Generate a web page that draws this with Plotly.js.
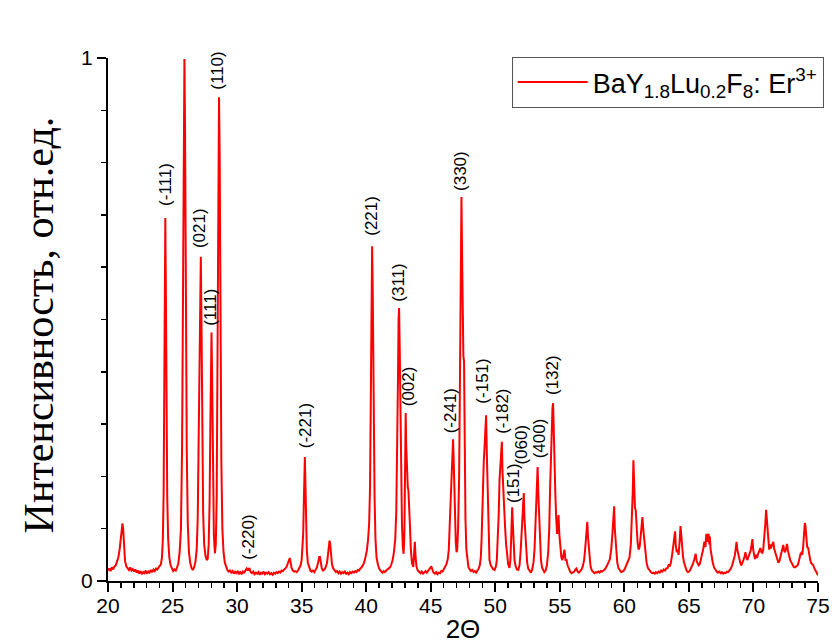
<!DOCTYPE html>
<html>
<head>
<meta charset="utf-8">
<script src="https://cdn.plot.ly/plotly-3.0.1.min.js"></script>
<style>html,body{margin:0;padding:0;background:#fff;}#chart{width:836px;height:644px;}</style>
</head>
<body>
<div id="chart"></div>
<script>
// 2Theta positions (degrees)
const twoTheta = [
20.00,20.10,20.20,20.30,20.40,20.50,20.60,20.70,20.80,20.90,
20.98,21.05,21.12,21.18,21.24,21.32,21.42,21.52,21.62,21.72,
21.82,21.92,22.02,22.12,22.22,22.32,22.42,22.52,22.62,22.72,
22.82,22.92,23.02,23.12,23.22,23.32,23.42,23.52,23.62,23.72,
23.82,23.92,24.00,24.10,24.18,24.25,24.31,24.36,24.40,24.44,
24.48,24.53,24.59,24.66,24.75,24.85,24.95,25.05,25.15,25.25,
25.35,25.45,25.55,25.65,25.74,25.80,25.86,25.92,25.97,26.03,
26.10,26.18,26.27,26.37,26.47,26.57,26.67,26.77,26.87,26.95,
27.03,27.09,27.15,27.19,27.24,27.30,27.37,27.45,27.55,27.65,
27.72,27.80,27.87,27.93,27.98,28.02,28.07,28.13,28.20,28.28,
28.35,28.42,28.49,28.55,28.60,28.65,28.71,28.78,28.86,28.95,
29.05,29.15,29.25,29.35,29.45,29.55,29.65,29.75,29.85,29.95,
30.05,30.15,30.25,30.35,30.45,30.55,30.65,30.75,30.85,30.95,
31.05,31.15,31.25,31.35,31.45,31.55,31.65,31.75,31.85,31.95,
32.05,32.15,32.25,32.35,32.45,32.55,32.65,32.75,32.85,32.95,
33.05,33.15,33.25,33.35,33.45,33.55,33.65,33.75,33.85,33.95,
34.02,34.08,34.14,34.22,34.32,34.42,34.52,34.62,34.72,34.82,
34.92,35.00,35.07,35.12,35.17,35.21,35.25,35.29,35.34,35.40,
35.48,35.58,35.68,35.78,35.88,35.98,36.08,36.18,36.28,36.36,
36.42,36.48,36.56,36.66,36.76,36.86,36.96,37.04,37.10,37.16,
37.21,37.27,37.35,37.45,37.55,37.65,37.75,37.85,37.95,38.05,
38.15,38.25,38.35,38.45,38.55,38.65,38.75,38.85,38.95,39.05,
39.15,39.25,39.35,39.45,39.55,39.65,39.75,39.85,39.95,40.05,
40.15,40.23,40.30,40.36,40.41,40.46,40.51,40.56,40.60,40.65,
40.72,40.80,40.92,41.04,41.15,41.25,41.35,41.45,41.55,41.65,
41.75,41.85,41.95,42.05,42.15,42.25,42.33,42.40,42.46,42.51,
42.55,42.60,42.65,42.70,42.77,42.84,42.90,42.96,43.01,43.06,
43.10,43.15,43.22,43.27,43.32,43.39,43.46,43.55,43.65,43.71,
43.77,43.83,43.90,44.00,44.10,44.20,44.30,44.40,44.50,44.60,
44.70,44.80,44.90,44.98,45.05,45.12,45.22,45.32,45.42,45.52,
45.62,45.72,45.82,45.92,46.02,46.12,46.22,46.32,46.40,46.46,
46.50,46.56,46.62,46.68,46.73,46.78,46.83,46.88,46.94,47.00,
47.05,47.12,47.20,47.27,47.33,47.38,47.43,47.48,47.53,47.58,
47.63,47.69,47.76,47.84,47.92,48.02,48.12,48.22,48.32,48.42,
48.52,48.62,48.72,48.80,48.88,48.94,49.00,49.06,49.11,49.17,
49.23,49.29,49.35,49.42,49.49,49.55,49.65,49.75,49.85,49.95,
50.05,50.12,50.20,50.27,50.33,50.40,50.46,50.51,50.56,50.61,
50.66,50.71,50.76,50.84,50.92,51.00,51.10,51.17,51.23,51.28,
51.31,51.36,51.42,51.49,51.58,51.68,51.78,51.88,51.96,52.02,
52.07,52.12,52.17,52.21,52.26,52.33,52.40,52.47,52.55,52.65,
52.76,52.86,52.96,53.04,53.10,53.16,53.22,53.28,53.33,53.38,
53.41,53.47,53.54,53.62,53.70,53.80,53.90,54.00,54.10,54.18,
54.25,54.31,54.37,54.43,54.48,54.53,54.59,54.65,54.72,54.79,
54.85,54.90,54.96,55.04,55.12,55.20,55.28,55.36,55.44,55.52,
55.60,55.70,55.82,55.92,56.02,56.12,56.20,56.29,56.38,56.48,
56.58,56.68,56.78,56.88,56.96,57.03,57.09,57.13,57.18,57.24,
57.30,57.38,57.48,57.58,57.68,57.78,57.88,57.98,58.08,58.18,
58.28,58.38,58.48,58.58,58.68,58.78,58.88,58.98,59.06,59.13,
59.21,59.26,59.31,59.37,59.45,59.55,59.65,59.75,59.85,59.95,
60.05,60.15,60.25,60.33,60.40,60.50,60.58,60.65,60.70,60.76,
60.82,60.88,60.95,61.02,61.10,61.18,61.26,61.33,61.40,61.46,
61.52,61.57,61.63,61.72,61.82,61.95,62.05,62.15,62.25,62.35,
62.45,62.55,62.65,62.75,62.85,62.95,63.05,63.15,63.25,63.35,
63.45,63.52,63.60,63.70,63.80,63.88,63.93,63.98,64.05,64.12,
64.20,64.28,64.35,64.40,64.47,64.55,64.63,64.72,64.82,64.92,
65.00,65.10,65.20,65.30,65.40,65.47,65.53,65.60,65.68,65.76,
65.84,65.92,66.00,66.10,66.20,66.28,66.35,66.42,66.48,66.53,
66.58,66.62,66.68,66.76,66.85,66.95,67.05,67.15,67.25,67.35,
67.45,67.55,67.65,67.75,67.85,67.95,68.05,68.15,68.25,68.35,
68.45,68.55,68.62,68.69,68.75,68.82,68.90,68.98,69.06,69.14,
69.22,69.30,69.38,69.45,69.52,69.61,69.70,69.78,69.86,69.92,
69.98,70.05,70.12,70.20,70.28,70.36,70.45,70.54,70.62,70.69,
70.76,70.84,70.92,70.98,71.04,71.10,71.16,71.22,71.28,71.35,
71.42,71.49,71.54,71.60,71.68,71.77,71.85,71.93,72.01,72.09,
72.17,72.24,72.31,72.38,72.45,72.53,72.60,72.67,72.75,72.85,
72.93,73.02,73.12,73.22,73.32,73.42,73.50,73.58,73.65,73.72,
73.78,73.85,73.92,73.98,74.03,74.09,74.16,74.24,74.32,74.40,
74.48,74.56,74.64,74.72,74.80,74.88,74.96,75.00
];

// Normalised intensity at each 2Theta position
const intensity = [
.020,.024,.019,.026,.022,.028,.030,.036,.045,.060,
.080,.100,.110,.098,.060,.038,.028,.024,.021,.026,
.020,.023,.018,.022,.016,.020,.014,.019,.013,.017,
.015,.020,.014,.018,.016,.021,.017,.022,.019,.024,
.022,.026,.028,.032,.045,.080,.170,.380,.590,.694,
.560,.330,.160,.080,.045,.030,.024,.019,.022,.020,
.026,.034,.055,.100,.260,.550,.870,.998,.860,.520,
.250,.110,.055,.035,.025,.021,.026,.036,.060,.120,
.280,.470,.600,.620,.500,.280,.130,.070,.048,.040,
.042,.070,.150,.300,.440,.475,.380,.200,.090,.053,
.070,.160,.450,.780,.925,.820,.500,.230,.100,.055,
.035,.026,.021,.018,.020,.016,.019,.014,.018,.015,
.019,.014,.017,.013,.018,.016,.021,.024,.020,.025,
.017,.015,.018,.013,.016,.014,.017,.012,.016,.014,
.018,.013,.016,.014,.017,.013,.015,.012,.016,.014,
.017,.015,.018,.016,.020,.019,.022,.024,.028,.034,
.040,.044,.036,.025,.020,.018,.019,.017,.020,.024,
.030,.040,.060,.090,.150,.225,.237,.190,.110,.060,
.035,.025,.020,.018,.020,.017,.021,.026,.036,.046,
.046,.034,.024,.020,.022,.026,.034,.050,.070,.077,
.072,.050,.032,.024,.020,.017,.019,.015,.018,.014,
.017,.015,.018,.014,.016,.013,.017,.015,.018,.016,
.019,.017,.021,.020,.024,.026,.030,.036,.046,.058,
.080,.110,.180,.320,.520,.640,.550,.330,.300,.160,
.080,.045,.030,.022,.019,.016,.019,.017,.020,.022,
.024,.026,.032,.040,.055,.080,.130,.230,.380,.500,
.522,.440,.300,.200,.110,.065,.052,.090,.200,.321,
.260,.200,.180,.174,.130,.107,.060,.034,.027,.045,
.075,.045,.027,.020,.017,.015,.018,.014,.016,.019,
.016,.020,.023,.027,.028,.022,.016,.014,.017,.013,
.016,.015,.019,.018,.022,.026,.032,.042,.060,.100,
.130,.140,.180,.250,.271,.230,.170,.120,.075,.055,
.060,.100,.200,.400,.620,.734,.620,.480,.430,.420,
.250,.120,.060,.035,.027,.022,.019,.021,.017,.019,
.016,.020,.024,.030,.045,.080,.150,.193,.230,.256,
.300,.317,.240,.168,.090,.040,.030,.025,.022,.021,
.028,.040,.075,.130,.193,.220,.250,.266,.210,.175,
.160,.130,.103,.070,.046,.032,.025,.040,.080,.130,
.141,.110,.060,.040,.028,.022,.021,.030,.055,.090,
.105,.120,.160,.168,.120,.092,.060,.035,.024,.019,
.016,.022,.035,.060,.100,.130,.180,.218,.170,.130,
.117,.080,.040,.026,.020,.017,.020,.030,.055,.100,
.180,.250,.300,.330,.340,.280,.197,.170,.120,.090,
.110,.126,.090,.060,.045,.040,.050,.060,.040,.040,
.030,.022,.017,.015,.016,.018,.022,.024,.018,.016,
.019,.022,.028,.040,.060,.085,.105,.113,.085,.070,
.045,.028,.020,.017,.015,.017,.016,.018,.016,.019,
.018,.020,.022,.026,.030,.036,.042,.060,.085,.120,
.143,.100,.085,.060,.035,.024,.019,.017,.018,.020,
.024,.030,.036,.042,.045,.070,.110,.170,.231,.180,
.140,.136,.100,.075,.060,.065,.085,.110,.122,.100,
.085,.080,.055,.035,.025,.020,.017,.015,.016,.014,
.017,.015,.018,.016,.020,.018,.022,.020,.024,.025,
.032,.028,.035,.050,.070,.090,.095,.070,.055,.060,
.050,.075,.105,.090,.060,.045,.035,.025,.020,.017,
.018,.021,.026,.032,.040,.050,.052,.038,.034,.030,
.032,.040,.050,.060,.075,.065,.090,.075,.088,.090,
.070,.085,.060,.045,.035,.026,.021,.018,.016,.018,
.015,.017,.014,.016,.015,.018,.017,.020,.024,.030,
.038,.048,.060,.075,.060,.050,.040,.035,.030,.034,
.040,.046,.055,.046,.040,.046,.052,.058,.070,.080,
.060,.048,.042,.050,.044,.052,.058,.063,.055,.054,
.060,.080,.110,.136,.120,.090,.078,.060,.070,.062,
.068,.072,.075,.062,.055,.048,.040,.035,.038,.045,
.052,.060,.069,.058,.055,.062,.071,.058,.048,.040,
.036,.030,.027,.026,.028,.030,.036,.045,.052,.054,
.050,.065,.090,.111,.105,.080,.065,.063,.050,.040,
.034,.032,.030,.024,.020,.016,.013,.011
];

// Miller-index labels of the indexed reflections
const hklLabels = ['(-111)','(200)','(021)','(111)','(110)','(-220)','(-221)','(221)','(311)','(002)',
                   '(-241)','(330)','(-151)','(-182)','(151)','(060)','(400)','(132)'];
const hklTwoTheta = [24.44,25.88,27.14,27.94,28.50,30.89,35.30,40.44,42.50,43.27,
                     46.55,47.35,49.00,50.50,51.36,52.00,53.40,54.48];
const hklIntensity = [0.713,1.010,0.633,0.484,0.935,0.037,0.250,0.656,0.531,0.331,
                      0.279,0.742,0.335,0.278,0.145,0.219,0.231,0.352];

const seriesName = 'BaY<sub>1.8</sub>Lu<sub>0.2</sub>F<sub>8</sub>: Er<sup>3+</sup>';
const xTitle = '2Θ';
const yTitle = 'Интенсивность, отн.ед.';

const sans = '"Liberation Sans", Arial, sans-serif';
const serif = '"Liberation Serif", "Times New Roman", serif';

const trace = {
  x: twoTheta, y: intensity, type: 'scatter', mode: 'lines',
  name: seriesName,
  line: {color: '#ff0000', width: 2}
};

const annotations = hklLabels.map((t, i) => ({
  x: hklTwoTheta[i], y: hklIntensity[i], xref: 'x', yref: 'y',
  text: t, showarrow: false, textangle: -90,
  xanchor: 'center', yanchor: 'bottom',
  font: {family: sans, size: 17, color: '#000'}
}));

// y-axis title placed as a rotated annotation so its position can be matched exactly
annotations.push({
  xref: 'paper', yref: 'paper', x: -0.097, y: 0.489,
  xanchor: 'center', yanchor: 'middle', textangle: -90, showarrow: false,
  text: yTitle, font: {family: serif, size: 42, color: '#000'}
});

const layout = {
  width: 836, height: 644,
  margin: {l: 108, r: 14, t: 58, b: 63},
  paper_bgcolor: '#ffffff', plot_bgcolor: '#ffffff',
  showlegend: true,
  font: {family: sans, color: '#000'},
  xaxis: {
    range: [20, 75], tick0: 20, dtick: 5,
    ticks: 'outside', ticklen: 9, tickwidth: 2, tickcolor: '#000',
    showline: true, linecolor: '#000', linewidth: 2,
    showgrid: false, zeroline: false,
    ticklabelstandoff: -4,
    tickfont: {family: sans, size: 21, color: '#000'},
    minor: {dtick: 1, tick0: 20, ticks: 'outside', ticklen: 5, tickwidth: 1.5, tickcolor: '#000', showgrid: false},
    title: {text: xTitle, font: {family: sans, size: 26, color: '#000'}}
  },
  yaxis: {
    range: [0, 1], tick0: 0, dtick: 1,
    ticks: 'outside', ticklen: 9, tickwidth: 2, tickcolor: '#000',
    showline: true, linecolor: '#000', linewidth: 2,
    showgrid: false, zeroline: false,
    tickfont: {family: sans, size: 21, color: '#000'},
    minor: {dtick: 0.1, tick0: 0, ticks: 'outside', ticklen: 5, tickwidth: 1.5, tickcolor: '#000', showgrid: false}
  },
  legend: {
    x: 1.008, xanchor: 'right', y: 1.002, yanchor: 'top',
    bgcolor: '#ffffff', bordercolor: '#555555', borderwidth: 1,
    font: {family: sans, size: 27, color: '#000'},
    itemwidth: 70
  },
  annotations: annotations
};

Plotly.newPlot('chart', [trace], layout, {staticPlot: true, displayModeBar: false});
</script>
</body>
</html>
